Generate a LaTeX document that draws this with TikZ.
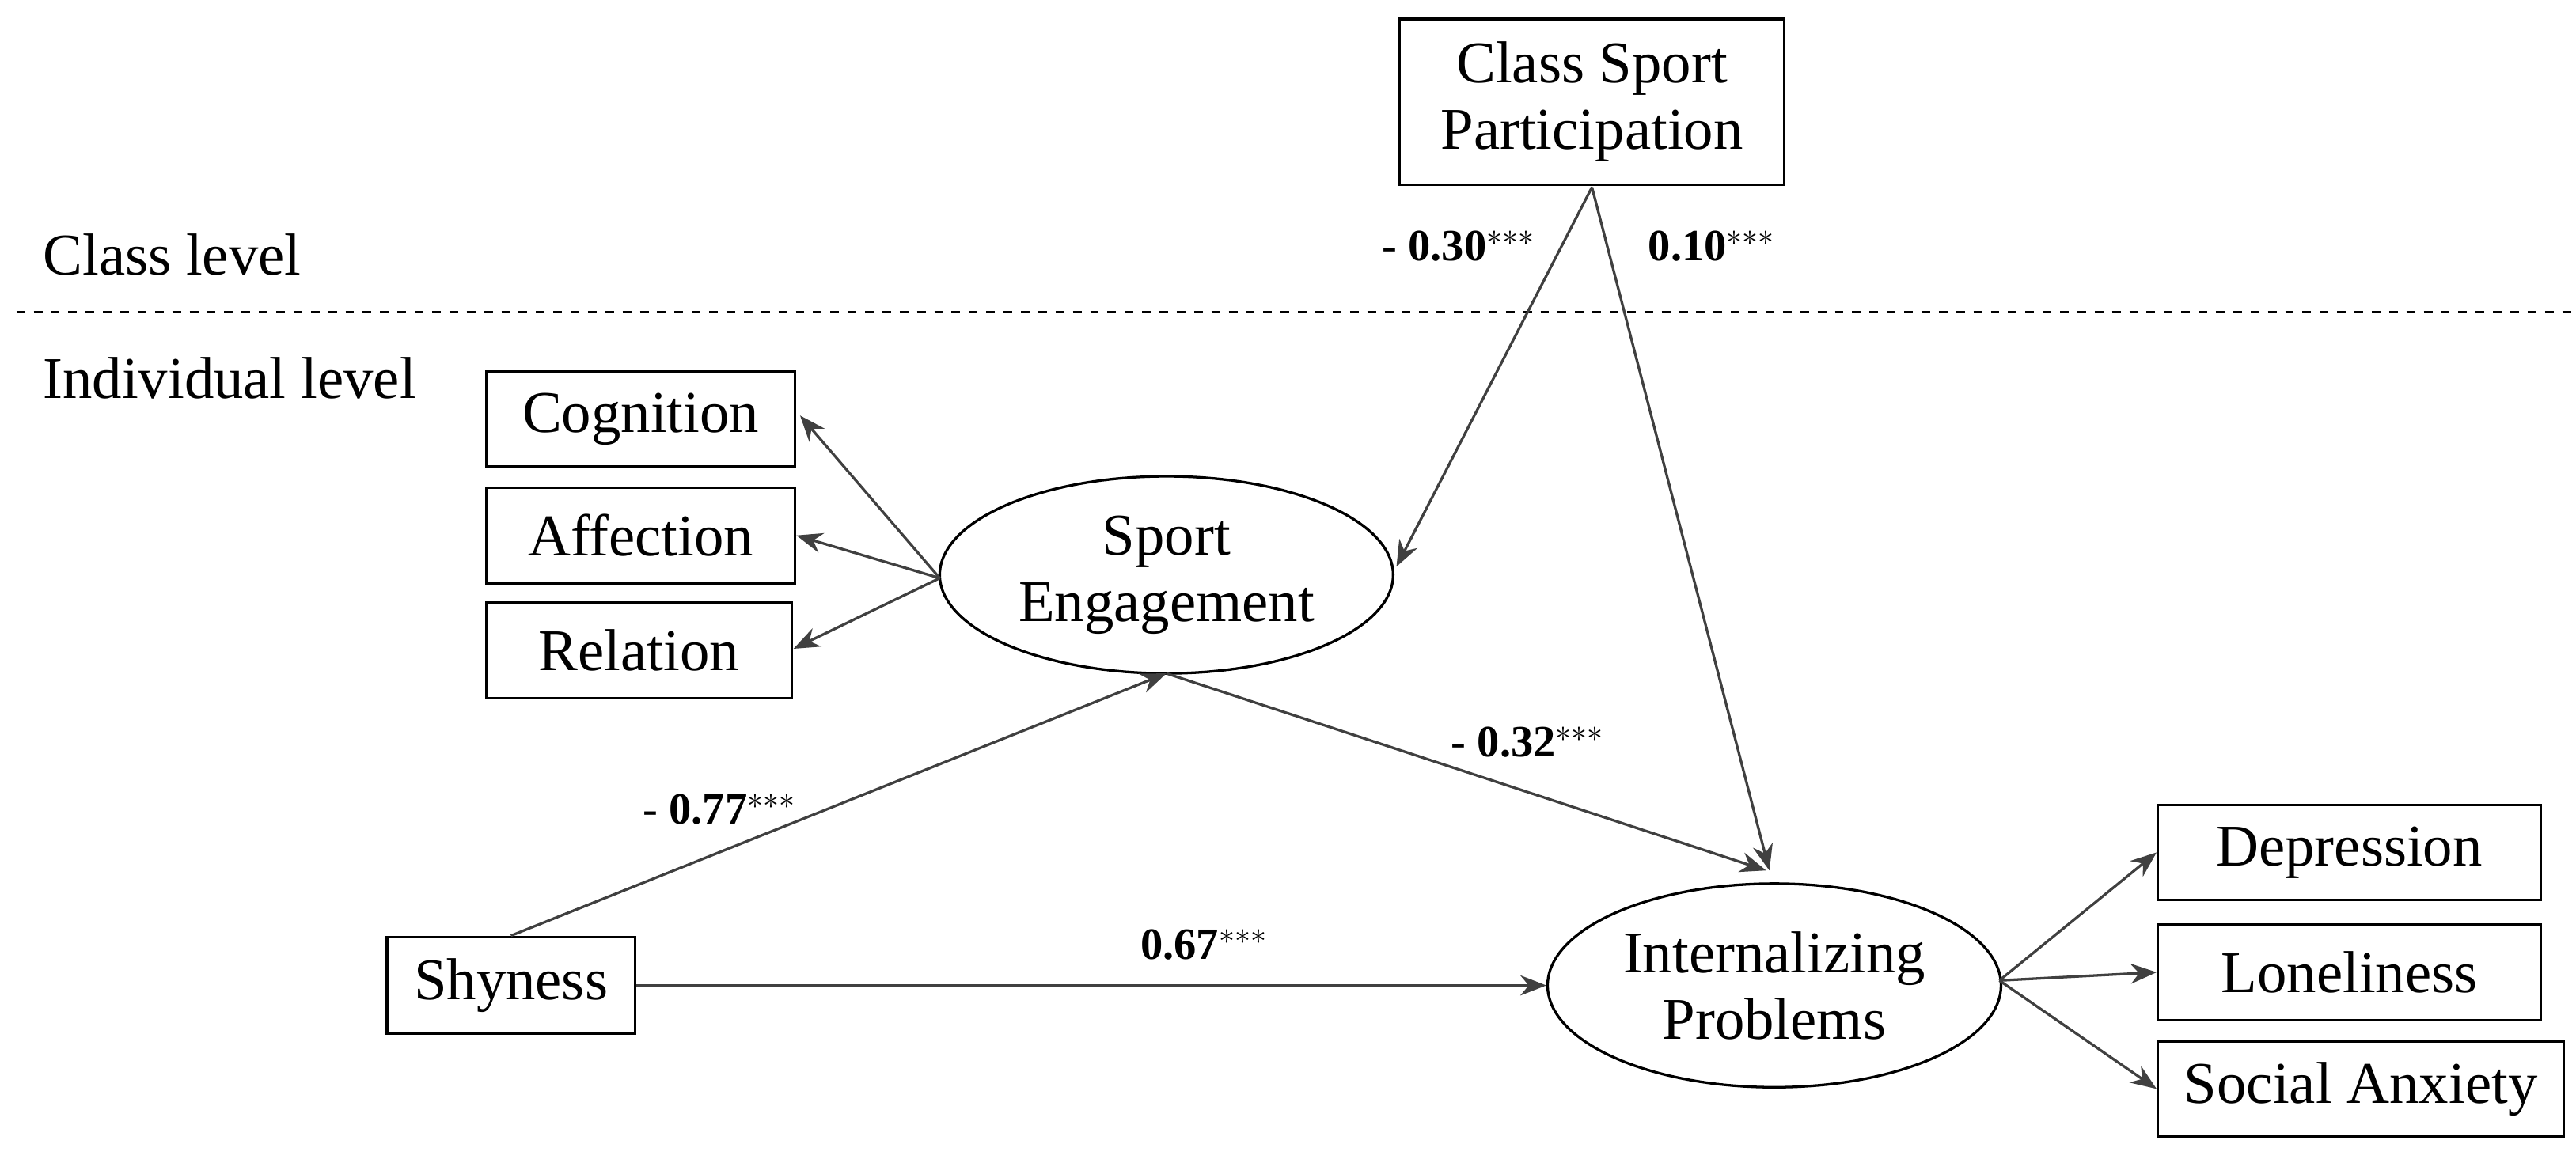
\documentclass[tikz,border=0pt]{standalone}
\usepackage{fontspec}
\setmainfont{Liberation Serif}
\usetikzlibrary{arrows.meta,shapes.geometric}
\begin{document}
\begin{tikzpicture}[x=0.02cm,y=-0.02cm,
 every node/.style={font=\fontsize{20.5}{23}\selectfont},
 box/.style={draw,line width=0.9pt,inner sep=0pt},
 ell/.style={draw,ellipse,line width=0.9pt,inner sep=0pt,align=center},
 arr/.style={draw=black!75,line width=0.9pt,-{Stealth[length=9pt,width=7pt]}},
 lab/.style={font=\fontsize{15.5}{18}\selectfont}]
\useasboundingbox (0,0) rectangle (1568,708);
\node[box,minimum width=234*0.02cm,minimum height=101*0.02cm,align=center] (csp) at (969,62) {Class Sport\\Participation};
\node[anchor=west] (cl) at (20,155) {Class level};
\node[anchor=west] (il) at (20,230) {Individual level};
\draw[dashed,line width=0.9pt] (10,190) -- (1568,190);
\node[box,minimum width=188*0.02cm,minimum height=58*0.02cm] (cog) at (390,255) {Cognition};
\node[box,minimum width=188*0.02cm,minimum height=58*0.02cm] (aff) at (390,326) {Affection};
\node[box,minimum width=186*0.02cm,minimum height=58*0.02cm] (rel) at (389,396) {Relation};
\node[ell,minimum width=276*0.02cm,minimum height=120*0.02cm] (se) at (710,350) {Sport\\Engagement};
\node[box,minimum width=151*0.02cm,minimum height=59*0.02cm] (shy) at (311,600) {Shyness};
\node[ell,minimum width=276*0.02cm,minimum height=124*0.02cm] (ip) at (1080,600) {Internalizing\\Problems};
\node[box,minimum width=233*0.02cm,minimum height=58*0.02cm] (dep) at (1430,519) {Depression};
\node[box,minimum width=233*0.02cm,minimum height=58*0.02cm] (lon) at (1430,592) {Loneliness};
\node[box,minimum width=247*0.02cm,minimum height=58*0.02cm] (sa) at (1437,663) {Social Anxiety};
\coordinate (seL) at (572,352);
\coordinate (seB) at (710,410);
\coordinate (cspB) at (969,114);
\coordinate (ipR) at (1217,597);
\draw[arr] (seL) -- (487,253);
\draw[arr] (seL) -- (aff.east);
\draw[arr] (seL) -- (483,395);
\draw[arr] (cspB) -- (850,345);
\draw[arr] (cspB) -- (1077,530);
\draw[arr] (shy.north) -- (seB);
\draw[arr] (seB) -- (1075,530);
\draw[arr] (shy.east) -- (ip.west);
\draw[arr] (ipR) -- (dep.west);
\draw[arr] (ipR) -- (lon.west);
\draw[arr] (ipR) -- (sa.west);
\node[lab] (l1) at (888,150) {- \textbf{0.30}$^{***}$};
\node[lab] (l2) at (1042,150) {\textbf{0.10}$^{***}$};
\node[lab] (l3) at (930,452) {- \textbf{0.32}$^{***}$};
\node[lab] (l4) at (438,493) {- \textbf{0.77}$^{***}$};
\node[lab] (l5) at (733,575) {\textbf{0.67}$^{***}$};
\end{tikzpicture}
\end{document}
